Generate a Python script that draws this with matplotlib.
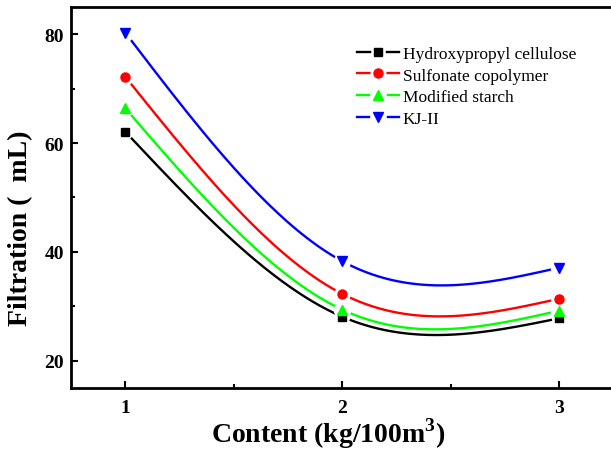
import numpy as np
import matplotlib
matplotlib.use('Agg')
import matplotlib.pyplot as plt
from matplotlib.lines import Line2D
from matplotlib.legend_handler import HandlerTuple

# data
content = [1, 2, 3]
hpc = [62.1, 28.1, 27.8]        # Hydroxypropyl cellulose
sulf = [72.2, 32.3, 31.4]       # Sulfonate copolymer
starch = [66.4, 29.4, 29.2]     # Modified starch
kj = [80.3, 38.3, 37.1]         # KJ-II

names = ['Hydroxypropyl cellulose', 'Sulfonate copolymer', 'Modified starch', 'KJ-II']
colors = ['#000000', '#ff0000', '#00ff00', '#0000ff']
markers = ['s', 'o', '^', 'v']
msizes = [5.5, 6.5, 7, 7]

plt.rcParams['font.family'] = ['Liberation Serif', 'DejaVu Serif']
plt.rcParams['mathtext.fontset'] = 'custom'
plt.rcParams['mathtext.rm'] = 'Liberation Serif'
plt.rcParams['mathtext.bf'] = 'Liberation Serif:bold'


# natural cubic spline through the points (what Origin's spline line does)
def Natural_Spline(x, y, num=200):
    x = np.asarray(x, float)
    y = np.asarray(y, float)
    n = len(x)
    h = np.diff(x)
    A = np.zeros((n, n))
    b = np.zeros(n)
    A[0, 0] = 1
    A[-1, -1] = 1
    for i in range(1, n - 1):
        A[i, i - 1] = h[i - 1]
        A[i, i] = 2 * (h[i - 1] + h[i])
        A[i, i + 1] = h[i]
        b[i] = 6 * ((y[i + 1] - y[i]) / h[i] - (y[i] - y[i - 1]) / h[i - 1])
    M = np.linalg.solve(A, b)
    xs = np.linspace(x[0], x[-1], num)
    ys = np.empty_like(xs)
    for k, xv in enumerate(xs):
        i = min(np.searchsorted(x, xv, side='right') - 1, n - 2)
        a = x[i + 1] - xv
        c = xv - x[i]
        ys[k] = (M[i] * a**3 / (6 * h[i]) + M[i + 1] * c**3 / (6 * h[i])
                 + (y[i] / h[i] - M[i] * h[i] / 6) * a
                 + (y[i + 1] / h[i] - M[i + 1] * h[i] / 6) * c)
    return xs, ys


fig = plt.figure(figsize=(6.11, 4.52), dpi=100)
ax = fig.add_axes([0.1162, 0.1394, 0.8876, 0.8429])

handles = []
for vals, name, c, m, ms in zip([hpc, sulf, starch, kj], names, colors, markers, msizes):
    xs, ys = Natural_Spline(content, vals)
    ax.plot(xs, ys, color=c, lw=1.7, zorder=2)
    # white halo so the line stops short of the marker
    ax.plot(content, vals, ls='none', marker='o', ms=ms + 4.5, mfc='white', mec='white', zorder=3)
    ax.plot(content, vals, ls='none', marker=m, ms=ms, color=c, zorder=4)
    handles.append((Line2D([], [], color=c, lw=1.7),
                    Line2D([], [], ls='none', marker='o', ms=ms + 4, mfc='white', mec='white'),
                    Line2D([], [], ls='none', marker=m, ms=ms, color=c)))

ax.set_xlim(0.75, 3.25)
ax.set_ylim(15, 85)
ax.set_xticks([1, 2, 3])
ax.set_xticks([1.5, 2.5], minor=True)
ax.set_yticks([20, 40, 60, 80])
ax.set_yticks([30, 50, 70], minor=True)

for s in ax.spines.values():
    s.set_linewidth(2)
ax.tick_params(which='both', direction='in', width=1.5, top=False, right=False)
ax.tick_params(which='major', length=5)
ax.tick_params(which='minor', length=3)
ax.tick_params(axis='x', pad=8)
ax.tick_params(axis='y', pad=5)
for lab in ax.get_xticklabels() + ax.get_yticklabels():
    lab.set_fontsize(14)
    lab.set_fontweight('bold')

ax.set_xlabel(r'Content (kg/100m$^\mathbf{3}$)', fontsize=20, fontweight='bold', va='baseline')
ax.xaxis.set_label_coords(0.474, -0.1417)
ax.set_ylabel('Filtration (  mL)', fontsize=20, fontweight='bold', va='center')
ax.yaxis.set_label_coords(-0.092, 0.4226)

ax.legend(handles, names, loc='upper left', bbox_to_anchor=(0.527, 0.899),
          frameon=False, fontsize=12.5, handlelength=2.45, handletextpad=0.2,
          labelspacing=0.33, borderpad=0, borderaxespad=0,
          handler_map={tuple: HandlerTuple(ndivide=1, pad=0)})

fig.savefig('out.png', dpi=100)
